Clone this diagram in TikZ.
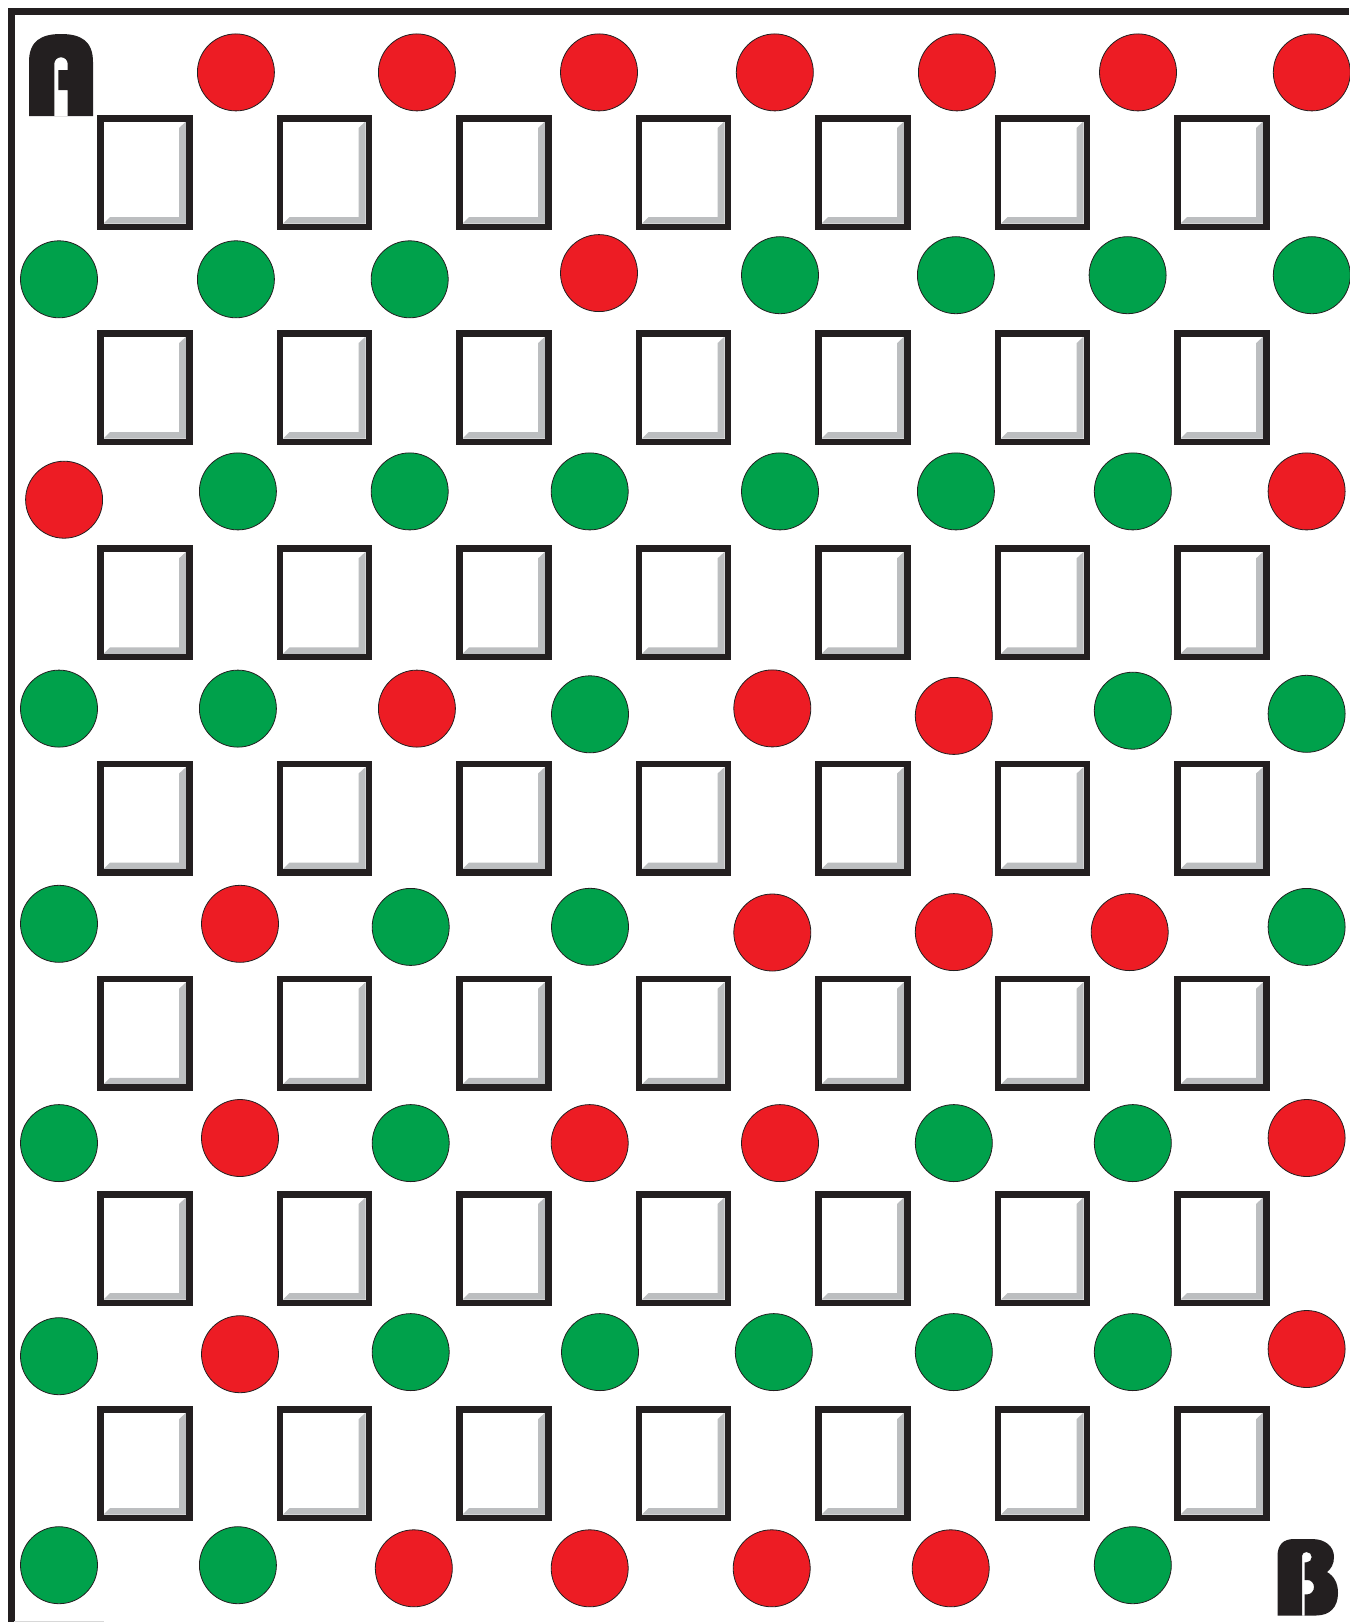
\documentclass[tikz,border=0pt]{standalone}
\definecolor{ink}{HTML}{231F20}
\definecolor{dotred}{HTML}{ED1C24}
\definecolor{dotgreen}{HTML}{00A14B}
\definecolor{bevel}{HTML}{BCBEC0}
\definecolor{faint}{HTML}{D8D8D8}
\begin{document}
\begin{tikzpicture}[x=1pt,y=-1pt,
  dot/.style={circle,draw=ink,line width=0.8pt,minimum size=77pt,inner sep=0pt},
  frameline/.style={draw=ink,line width=7pt,line join=miter},
  boxline/.style={draw=ink,line width=6.5pt,line join=miter},
  letter/.style={fill=ink,even odd rule}
]
\useasboundingbox (0,0) rectangle (1349,1622);
\fill[white] (0,0) rectangle (1349,1622);
% frame
\draw[frameline] (11,1622) -- (11,11.5) -- (1349,11.5);
\draw[faint,line width=1pt] (14,1621.5) -- (104,1621.5);
% squares
\foreach \i in {0,...,6}{\foreach \j in {0,...,6}{
  \pgfmathsetmacro\sx{97+179.5*\i}
  \pgfmathsetmacro\sy{115+215.2*\j}
  \begin{scope}[shift={(\sx,\sy)}]
    \fill[bevel] (89,6.5) -- (89,108.5) -- (6.5,108.5) -- (13,102) -- (82,102) -- (82,13) -- cycle;
    \draw[boxline] (3.25,3.25) rectangle (92.25,111.75);
  \end{scope}
}}
% circles
\foreach \x/\y/\c [count=\n] in {
  235.9/72.4/dotred, 416.9/72.4/dotred, 599.0/72.4/dotred, 774.8/72.4/dotred,
  956.9/72.4/dotred, 1138.0/72.4/dotred, 1311.8/72.4/dotred,
  59.0/279.3/dotgreen, 235.9/279.3/dotgreen, 409.7/279.3/dotgreen, 599.0/273.1/dotred,
  780.0/275.2/dotgreen, 955.9/275.2/dotgreen, 1127.6/275.2/dotgreen, 1311.8/275.2/dotgreen,
  64.1/499.7/dotred, 237.9/491.4/dotgreen, 409.7/491.4/dotgreen, 589.7/491.4/dotgreen,
  780.0/491.4/dotgreen, 955.9/491.4/dotgreen, 1132.8/491.4/dotgreen, 1306.6/491.4/dotred,
  59.0/708.6/dotgreen, 237.9/708.6/dotgreen, 416.9/708.6/dotred, 590.0/714.3/dotgreen,
  772.3/708.4/dotred, 953.8/715.9/dotred, 1132.8/710.7/dotgreen, 1306.6/713.8/dotgreen,
  59.0/923.8/dotgreen, 240.0/923.8/dotred, 410.7/926.9/dotgreen, 590.0/926.8/dotgreen,
  772.3/932.5/dotred, 953.8/932.1/dotred, 1129.7/932.1/dotred, 1306.6/926.9/dotgreen,
  59.0/1143.1/dotgreen, 240.0/1138.0/dotred, 410.7/1143.1/dotgreen, 589.7/1143.1/dotred,
  780.0/1143.1/dotred, 953.8/1143.1/dotgreen, 1132.8/1143.1/dotgreen, 1306.6/1138.0/dotred,
  59.0/1356.2/dotgreen, 240.0/1354.2/dotred, 410.7/1352.1/dotgreen, 600.0/1352.1/dotgreen,
  773.8/1352.1/dotgreen, 953.8/1352.1/dotgreen, 1132.8/1352.1/dotgreen, 1306.6/1349.0/dotred,
  59.0/1565.2/dotgreen, 237.9/1565.2/dotgreen, 413.8/1568.3/dotred, 589.7/1568.3/dotred,
  771.7/1568.3/dotred, 950.7/1568.3/dotred, 1132.8/1565.2/dotgreen}
  \node[dot,fill=\c] (c\n) at (\x,\y) {};
% letter A
\fill[letter] (29,116) -- (29,62) .. controls (29,41) and (41,34) .. (61,34)
   .. controls (81,34) and (93,41) .. (93,62) -- (93,116) -- cycle
   (54.3,116) -- (54.3,64) .. controls (54.3,60) and (57.3,57.3) .. (61,57.3)
   .. controls (64.7,57.3) and (67.7,60) .. (67.7,64) -- (67.7,70) -- (58.3,70)
   -- (58.3,90) -- (67.7,90) -- (67.7,116) -- cycle;
% letter B
\fill[letter] (1277.5,1615.5) -- (1277.5,1556) .. controls (1277.5,1545) and (1283,1539) .. (1294,1539)
   -- (1312,1539) .. controls (1326,1539) and (1334,1547) .. (1334,1557)
   .. controls (1334,1564) and (1331,1569) .. (1327,1572)
   .. controls (1334,1576) and (1338,1583) .. (1338,1593)
   .. controls (1338,1607) and (1330,1615.5) .. (1316,1615.5) -- cycle
   (1302,1615.5) -- (1302,1556) .. controls (1302,1553.5) and (1304,1552) .. (1306.5,1552)
   .. controls (1309.5,1552) and (1311.7,1554.3) .. (1311.7,1557)
   .. controls (1311.7,1560) and (1309.5,1562.3) .. (1306.5,1562.3) -- (1304.7,1562.3)
   -- (1304.7,1580) -- (1307.5,1580) .. controls (1311,1580) and (1314,1583) .. (1314,1587)
   .. controls (1314,1591) and (1311,1594.3) .. (1307.5,1594.3) -- (1304.7,1594.3)
   -- (1304.7,1615.5) -- cycle;
\end{tikzpicture}
\end{document}
